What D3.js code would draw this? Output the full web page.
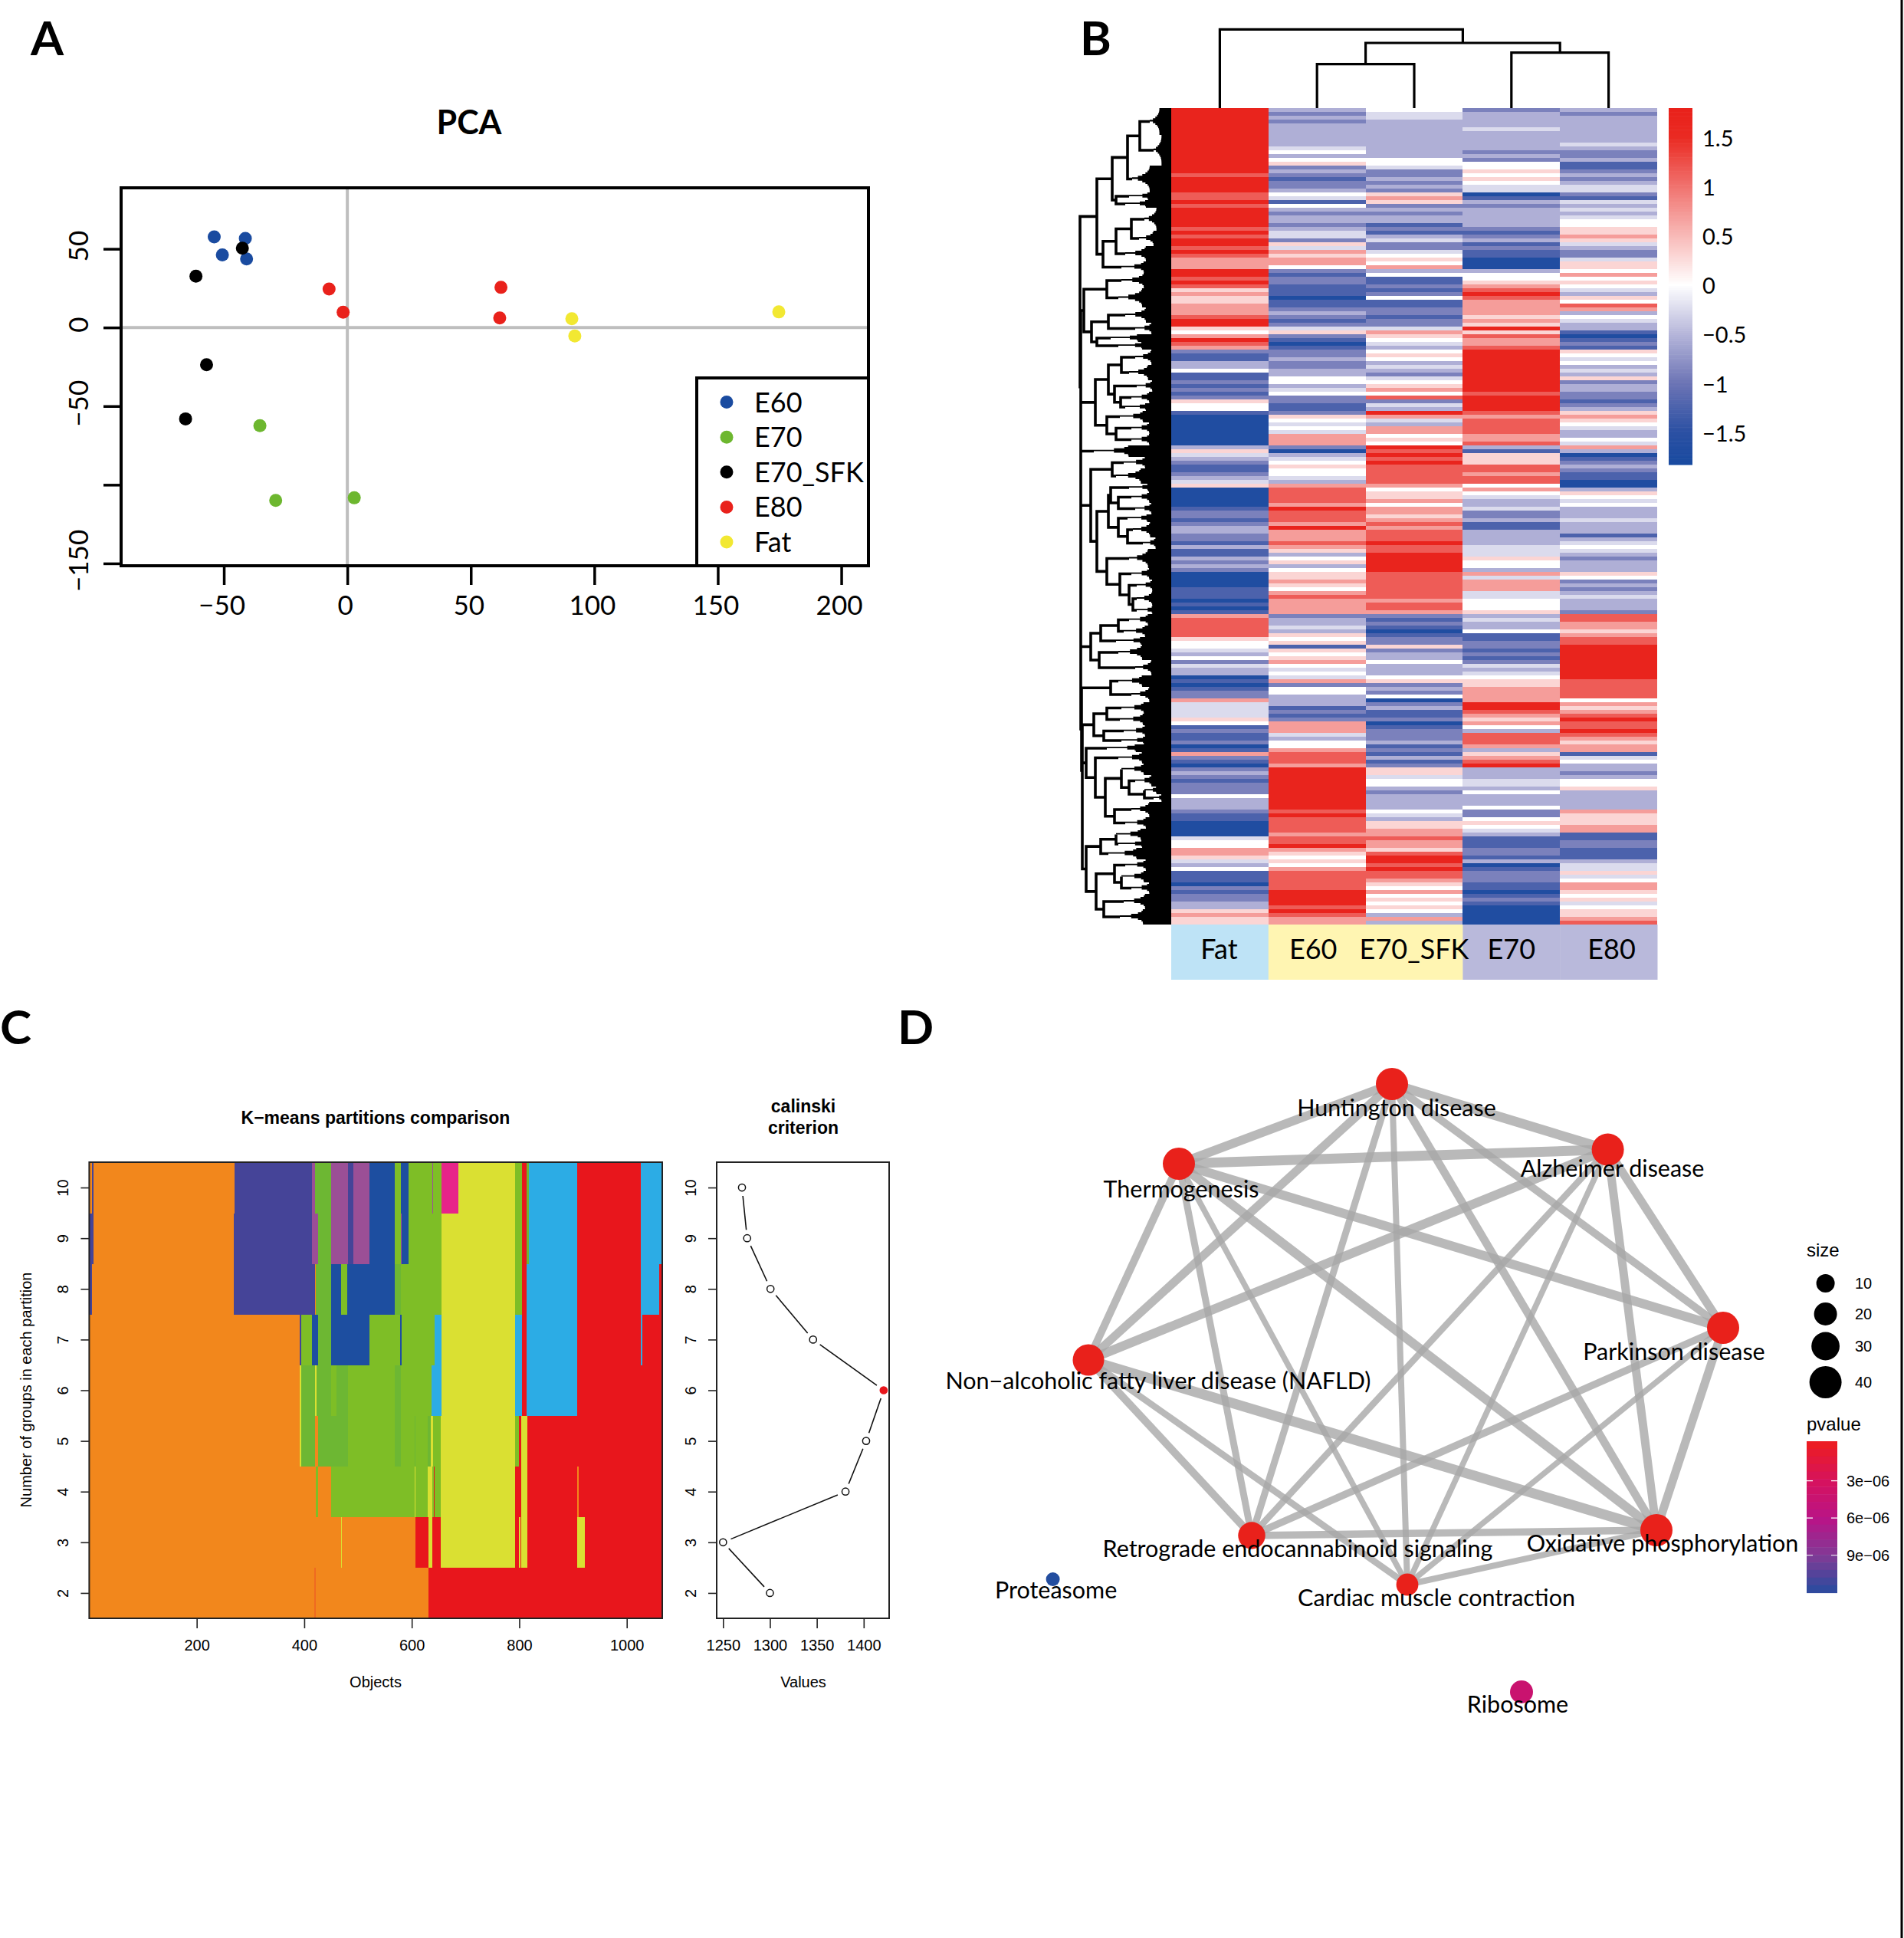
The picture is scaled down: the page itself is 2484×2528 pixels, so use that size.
<!DOCTYPE html>
<html>
<head>
<meta charset="utf-8">
<script src="https://cdn.jsdelivr.net/npm/d3@7"></script>
<style>
  html, body { margin: 0; padding: 0; background: #fff; }
  svg { display: block; }
  text { font-family: Lato, sans-serif; fill: #000; }
  .r text, text.r { font-family: "Liberation Sans", Arial, sans-serif; }
</style>
</head>
<body>
<svg id="fig" width="2484" height="2528"></svg>
<script>
// ---- A: PCA ----
const pcaGroups = ["E60", "E70", "E70_SFK", "E80", "Fat"];
const pcaColors = ["#1A4BA0", "#6DB72F", "#000000", "#E9211B", "#F2E832"];
const pcaE60 = [[-53.9, 57.6], [-41.3, 56.6], [-50.6, 46.1], [-40.8, 43.6]];
const pcaE70 = [[-35.4, -62.4], [-29, -110], [2.8, -108.3]];
const pcaSfk = [[-42.5, 50.4], [-61.3, 32.6], [-57, -23.7], [-65.5, -58.1]];
const pcaE80 = [[-7.4, 24.5], [-1.7, 9.7], [62.2, 25.5], [61.7, 6.1]];
const pcaFat = [[90.9, 5.6], [92.1, -5.4], [174.7, 9.9]];
const pcaXTicks = [-50, 0, 50, 100, 150, 200];
const pcaYTicks = [50, 0, -50, -100, -150];

// ---- B: heatmap, one digit per row, digit indexes heatLevels ----
const heatColumns = ["Fat", "E60", "E70_SFK", "E70", "E80"];
const heatLevels = [-1.7, -1.25, -0.9, -0.55, -0.25, 0, 0.3, 0.7, 1.15, 1.7];
const rowsOf = s => s.replace(/ /g, "");
const heatFat = rowsOf(
  "999999999999999 9989999 8898 99999 8989 9898 777 9 989 8 6766 77 " +
  "7899 65 7 9 8 7 2 1 1 33 5 1 1212 1 2 6 55 1 00000000 3 6 4 3 2112 3 4 6 00000 122 " +
  "1 233 22 1 3 11 3232 00001 110101 7 88888 6 55 43 5 2 4 33 010 1 22 7 444 465 " +
  "12112 01 7 21 0 2 32122 2 5 333 211 000 0 45 5 776 43 5 1110 2122 3 3 6 766");
const heatE60 = rowsOf(
  "323233 3333 4 5 3 5 6 2 3 2 1 2 2 3 5 4 1 5 32332 3 4 4 2 6 4 7 6 7 7 5 2 1 2 2 1 1 1 0 1 1 2 " +
  "3212 4 6 2 101 22 3 223 3 55 3 4 5 2 211 2 6 5454 777 2 0 345 6 554 3 7 8 888 7 988 " +
  "8797 778 76 3 56 3 5 66765 787777 23343 65 6 1 656 7 5454 7 2 55 333 1212 7 " +
  "77 43 55 7 88 8 7 99999999999 898 8887 889 76 56 5 7 8888 89999 898 77");
const heatSfk = rowsOf(
  "5443 333333 333 55 4 2 2323 2 676 23233 121 34 22 4 5 6 5 7 3 5 11212 5 112 " +
  "2122 4 7 6 5 4 3 5 6 5 343 2 4 5 67 5 8 2 4 3 9 7 43 77 5 6 5 98 989 88888 7 5 6 67 5 776 " +
  "787 888 98 8 99999 8888 8887887 21210 122 6 233 5 333 5 6 23 2 5 0 23112 0 " +
  "1222 3 1213 12 66 4 55 32 3333 54 3 667 7 877 6 899 8988 7 65 75 6 56 5 37 3");
const heatE70 = rowsOf(
  "2333 3433333 23 2 5 565 6 544 0 1 3 2333 332 12 3 12 11 000 3 5 5 6 7 898 777 " +
  "7676 9 6 8 7 7 8 9 9999999999 8 9999 8 7 88 887 78 3 1 6 66 88788 5 7 5 433 4 22 " +
  "3 11 3 33 34 44 6 5 5 3 7 4 777 445 556 3433 5 11 22 121 2 434 56 6 777 7 998 767 " +
  "53 8887 3 67 89 33344 3 5 333 5 22 5 65 4 3 111 221 3 0 1 222 1101 210 0000");
const heatE80 = rowsOf(
  "323333 33343 223 1 1 2323 44 214 3434 55 66 7 6 432 2 4 66 5 7 565 43 65 87 " +
  "35433 1 01 2 1 6 5 4 5 343 6 2 332 21 23 6 76 54 3 3 54 7 3 01 232 1100 3 6 5 45 3 33 " +
  "433 3 1 3 4 5 43 2333 6 5 2323 43332 88 7767 8899 999 999 98888 8 5 767 898 " +
  "8987 6 7 7 1 4 53 323 55 6 33 333 7666 77 1 122 111 344 645 7 7 656 45 667 8");
const heatCols = [heatFat, heatE60, heatSfk, heatE70, heatE80];
const heatLegendTicks = [1.5, 1, 0.5, 0, -0.5, -1, -1.5];
const annotationGroups = ["Fat", "E60", "E70_SFK", "E70", "E80"];
const annotationColors = ["#BEE3F6", "#FFF5B2", "#FFF5B2", "#B9B9DB", "#B9B9DB"];

// column dendrogram: [height, left, right], leaf = column index
const colTree = [102.6, 0, [85, [57.3, 1, 2], [72.4, 3, 4]]];

// row dendrogram: [height, left, right], leaf = [height, rows]
const treeA = [97, [77, [57, [41, [28, 7], [23, 8]], [51, 7]], [72, [55, 2], [60, 2]]],
  [89, [72, [52, [35, 6], [42, 4]], [60, 4]], [65, 3]]];
const treeB = [114, [84, [65, 4], [69, 5]], [104, [82, [60, 4], [47, 3]], [97, [79, 2], [69, 2]]]];
const treeC = [99, [82, [65, [47, 4], [55, 4]], [74, [45, 3], [66, [52, 3], [60, 2]]]],
  [84, [67, 3], [72, [52, 3], [52, 3]]]];
const treeD = [101, 3];
const treeE = [77, [62, 3], [72, 4]];
const treeF = [79, [55, 2], [69, [52, 3], [47, 3]]];
const treeG = [69, [57, 2], [57, [50, 4], [37, 3]]];
const treeH = [84, [55, 5], [67, [52, 3], [55, [45, 3], [50, [45, 4], [45, 2]]]]];
const treeI = [105, treeE, [97, [82, treeF, treeG], treeH]];
const treeJ = [105, [92, [69, [55, 3], [62, 3]], [72, 2]], [94, [69, 4], [47, 4]]];
const treeK = [79, [69, 3], [52, 4]];
const treeM = [101, [84, [65, 3], [67, 3]], [88, [62, 3], [65, 2]]];
const treeN = [111, [84, 2], [99, [69, 3], [86, [65, [65, 3], [55, [47, 3], [35, [35, 2], [23, 2]]]], [74, [52, 4], [60, 3]]]]];
const treeO = [111, [92, [72, [72, 3], [69, 2]], [82, 3]], [98, [74, [60, 3], [65, [65, 3], [52, 3]]], [88, [62, 4], [67, 4]]]];
const rowTree = [119, treeA, [118, treeB, [118, treeC, [118, treeD, [118, treeI,
  [118, treeJ, [117, treeK, [116, treeM, [116, treeN, treeO]]]]]]]]];

// ---- C: cascade K-means, segments are [last object, cluster colour key] ----
const kmColors = { O: "#F2871C", o: "#EF6A20", R: "#E8161C", Y: "#DAE032", G: "#7EBE26", g: "#6DB733",
  L: "#2CACE5", D: "#1D4EA0", I: "#454498", P: "#9B4F96", K: "#E72489" };
const km2 = [[419, "O"], [422, "o"], [631, "O"], [1066, "R"]];
const km3 = [[468, "O"], [470, "Y"], [607, "O"], [631, "R"], [638, "Y"], [654, "R"], [792, "Y"], [800, "R"], [802, "Y"], [804, "R"], [815, "Y"], [908, "R"], [922, "Y"], [1066, "R"]];
const km4 = [[421, "O"], [426, "G"], [450, "O"], [606, "G"], [607, "Y"], [630, "G"], [638, "Y"], [641, "G"], [643, "R"], [654, "G"], [792, "Y"], [800, "R"], [804, "R"], [815, "Y"], [908, "R"], [911, "O"], [1066, "R"]];
const km5 = [[392, "O"], [395, "Y"], [420, "g"], [426, "O"], [481, "g"], [569, "G"], [580, "g"], [606, "G"], [607, "g"], [630, "G"], [636, "g"], [639, "Y"], [654, "G"], [792, "Y"], [800, "G"], [804, "R"], [815, "Y"], [1066, "R"]];
const km6 = [[392, "O"], [395, "Y"], [420, "g"], [423, "Y"], [450, "g"], [460, "G"], [481, "g"], [569, "G"], [580, "g"], [637, "G"], [655, "L"], [792, "Y"], [805, "L"], [814, "R"], [908, "L"], [1066, "R"]];
const km7 = [[392, "O"], [395, "I"], [414, "G"], [426, "D"], [450, "g"], [522, "D"], [579, "G"], [581, "D"], [642, "G"], [655, "L"], [792, "Y"], [805, "L"], [814, "R"], [908, "L"], [1026, "R"], [1029, "L"], [1066, "R"]];
const km8 = [[5, "I"], [269, "O"], [420, "I"], [422, "O"], [450, "g"], [468, "D"], [480, "G"], [568, "D"], [580, "g"], [655, "G"], [792, "Y"], [805, "G"], [814, "R"], [908, "L"], [1026, "R"], [1060, "L"], [1066, "R"]];
const km9 = [[8, "I"], [269, "O"], [414, "I"], [426, "P"], [450, "g"], [482, "P"], [491, "I"], [522, "P"], [568, "D"], [580, "G"], [581, "P"], [594, "D"], [655, "G"], [792, "Y"], [805, "G"], [814, "R"], [818, "g"], [908, "L"], [1026, "R"], [1066, "L"]];
const km10 = [[5, "O"], [8, "I"], [270, "O"], [414, "I"], [420, "P"], [450, "g"], [482, "P"], [491, "I"], [522, "P"], [568, "D"], [580, "G"], [594, "D"], [638, "G"], [640, "P"], [655, "G"], [687, "K"], [792, "Y"], [805, "G"], [814, "R"], [818, "g"], [908, "L"], [1026, "R"], [1066, "L"]];
const kmRows = [km2, km3, km4, km5, km6, km7, km8, km9, km10];
const kmGroups = [2, 3, 4, 5, 6, 7, 8, 9, 10];
const calinski = [1300, 1250, 1380.6, 1402.6, 1421.3, 1346, 1300.6, 1275.7, 1270.2];

// ---- D: network ----
const netNames = ["Huntington disease", "Alzheimer disease", "Parkinson disease", "Oxidative phosphorylation",
  "Cardiac muscle contraction", "Retrograde endocannabinoid signaling", "Non\u2212alcoholic fatty liver disease (NAFLD)",
  "Thermogenesis", "Proteasome", "Ribosome"];
const netX = [-0.035, 0.669, 1.045, 0.8275, 0.015, -0.4925, -1.025, -0.73, -1.141, 0.3875];
const netY = [-0.815, -0.601, -0.02, 0.64, 0.8175, 0.6575, 0.085, -0.555, 0.8, 1.1675];
const netSize = [40, 40, 40, 40, 18, 28, 38, 40, 5, 20];
const netP = [1e-7, 1e-7, 1e-7, 1e-7, 1e-7, 1e-7, 1e-7, 1e-7, 1.2e-5, 4.2e-6];
// label offset from the node, x and y, in pixels
const netLabelDx = [6, 6, -64, 8, 38, 60, 91, 3, 4, -5];
const netLabelDy = [32, 25, 32, 18, 18, 18, 28, 34, 15, 17];
// edges: [from, to, width]
const netEdges = [[0, 7, 11.5], [0, 1, 12.5], [7, 1, 13], [0, 2, 10], [0, 3, 10.5], [1, 2, 11], [1, 3, 11], [2, 3, 11],
  [7, 2, 12], [7, 3, 12], [6, 0, 11], [6, 7, 10], [6, 1, 12], [6, 3, 13], [6, 5, 10], [6, 4, 8.5], [7, 5, 9], [7, 4, 7.5],
  [0, 5, 9], [0, 4, 8], [1, 5, 8.5], [1, 4, 7.5], [2, 5, 9.5], [2, 4, 7.5], [5, 3, 9.5], [3, 4, 8]];
const sizeLegend = [10, 20, 30, 40];
const pLegendTicks = [3e-6, 6e-6, 9e-6];

const svg = d3.select("#fig");

// panel letters
[["A", 40, 72], ["B", 1409, 72], ["C", 0, 1362], ["D", 1171, 1362]].forEach(p => {
  svg.append("text").attr("x", p[1]).attr("y", p[2])
    .style("font-size", "62px").style("font-weight", 700).text(p[0]);
});

// ================= A =================
const pca = svg.append("g");
const pcaLeft = 158, pcaRight = 1133, pcaTop = 245, pcaBottom = 738;
const xPca = d3.scaleLinear().domain([-91.6, 211]).range([pcaLeft, pcaRight]);
const yPca = d3.scaleLinear().domain([-151.5, 88.8]).range([pcaBottom, pcaTop]);

pca.append("text").attr("x", 612).attr("y", 175).attr("text-anchor", "middle")
  .style("font-size", "43px").style("font-weight", 700).text("PCA");

pca.append("line").attr("x1", xPca(0)).attr("x2", xPca(0)).attr("y1", pcaTop).attr("y2", pcaBottom)
  .attr("stroke", "#BEBEBE").attr("stroke-width", 4);
pca.append("line").attr("y1", yPca(0)).attr("y2", yPca(0)).attr("x1", pcaLeft).attr("x2", pcaRight)
  .attr("stroke", "#BEBEBE").attr("stroke-width", 4);

const pcaAxisX = pca.append("g").attr("transform", `translate(0,${pcaBottom})`)
  .call(d3.axisBottom(xPca).tickValues(pcaXTicks).tickSize(25).tickPadding(14));
const pcaAxisY = pca.append("g").attr("transform", `translate(${pcaLeft},0)`)
  .call(d3.axisLeft(yPca).tickValues(pcaYTicks).tickSize(23).tickPadding(0)
    .tickFormat(d => d === -100 ? "" : d3.format("d")(d)));
[pcaAxisX, pcaAxisY].forEach(a => {
  a.select(".domain").remove();
  a.selectAll("line").attr("stroke", "#000").attr("stroke-width", 3.5);
  a.selectAll("text").style("font-family", "Lato, sans-serif").style("font-size", "35px");
});
pcaAxisX.selectAll("text").attr("dx", -3);
pcaAxisY.selectAll("text")
  .attr("transform", "rotate(-90)").attr("text-anchor", "middle")
  .attr("x", 4).attr("y", -43).attr("dy", 0);

pca.append("rect").attr("x", pcaLeft).attr("y", pcaTop).attr("width", pcaRight - pcaLeft).attr("height", pcaBottom - pcaTop)
  .attr("fill", "none").attr("stroke", "#000").attr("stroke-width", 4);

[pcaE60, pcaE70, pcaSfk, pcaE80, pcaFat].forEach((pts, i) => {
  pca.selectAll(null).data(pts).join("circle")
    .attr("cx", d => xPca(d[0])).attr("cy", d => yPca(d[1])).attr("r", 8.5).attr("fill", pcaColors[i]);
});

const pcaLegend = pca.append("g");
pcaLegend.append("path").attr("d", "M909,738V493H1133").attr("fill", "none").attr("stroke", "#000").attr("stroke-width", 4);
const legendY = d3.scalePoint().domain(pcaGroups).range([524.6, 707]);
pcaLegend.selectAll("circle").data(pcaGroups).join("circle")
  .attr("cx", 948).attr("cy", d => legendY(d)).attr("r", 8.5).attr("fill", (d, i) => pcaColors[i]);
pcaLegend.selectAll("text").data(pcaGroups).join("text")
  .attr("x", 984).attr("y", d => legendY(d) + 13).style("font-size", "36px").text(d => d);

// ================= B =================
const heat = svg.append("g");
const heatLeft = 1528, heatRight = 2162, heatTop = 141, heatBottom = 1206;
const xHeat = d3.scaleBand().domain(heatColumns).range([heatLeft, heatRight]);
const rowCount = d3.max(heatCols, c => c.length);
const yHeat = d3.scaleBand().domain(d3.range(rowCount)).range([heatTop, heatBottom]);
const heatColor = d3.scaleLinear()
  .domain([-1.8, -1.5, -1, -0.5, 0, 0.5, 1, 1.5, 1.8])
  .range(["#1A4BA0", "#2B50A3", "#6C74B5", "#B6B6DA", "#FFFFFF", "#F8B9B7", "#F0726E", "#EA2A22", "#E9211B"]);

heatCols.forEach((col, c) => {
  heat.append("g").selectAll("rect").data(Array.from(col)).join("rect")
    .attr("x", xHeat(heatColumns[c])).attr("width", xHeat.bandwidth())
    .attr("y", (d, i) => yHeat(i)).attr("height", yHeat.bandwidth() + 0.5)
    .attr("fill", d => heatColor(heatLevels[+d]))
    .attr("shape-rendering", "crispEdges");
});

// annotation strip
heat.selectAll(".anno").data(annotationGroups).join("rect").attr("class", "anno")
  .attr("x", d => xHeat(d)).attr("width", xHeat.bandwidth() + 0.5)
  .attr("y", heatBottom).attr("height", 72)
  .attr("fill", (d, i) => annotationColors[i]);
const annoLabelDx = [-1, -5, 0, 0, 4];
heat.selectAll(".annoText").data(annotationGroups).join("text").attr("class", "annoText")
  .attr("x", (d, i) => xHeat(d) + xHeat.bandwidth() / 2 + annoLabelDx[i]).attr("y", 1251)
  .attr("text-anchor", "middle").style("font-size", "36px").text(d => d);

// colour key
const yKey = d3.scaleLinear().domain([1.8, -1.82]).range([heatTop, 606]);
heat.append("g").selectAll("rect").data(d3.range(-1.82, 1.8, 0.02)).join("rect")
  .attr("x", 2177).attr("width", 31)
  .attr("y", d => yKey(d + 0.02)).attr("height", yKey(0) - yKey(0.02) + 0.6)
  .attr("fill", d => heatColor(d));
heat.selectAll(".keyText").data(heatLegendTicks).join("text").attr("class", "keyText")
  .attr("x", 2221).attr("y", d => yKey(d) + 11).style("font-size", "29px")
  .text(d => d3.format("")(d).replace("-", "\u2212"));

// column dendrogram
const yColTree = d3.scaleLinear().domain([0, 102.6]).range([heatTop, 38.4]);
const colRoot = d3.hierarchy(colTree, d => Array.isArray(d) ? d.slice(1) : null);
colRoot.eachAfter(n => {
  n.px = n.children ? d3.mean(n.children, k => k.px) : xHeat(heatColumns[n.data]) + xHeat.bandwidth() / 2;
  n.py = n.children ? yColTree(n.data[0]) : heatTop;
});
const colPath = d3.path();
colRoot.each(n => {
  if (!n.children) return;
  const [a, b] = n.children;
  colPath.moveTo(a.px, a.py); colPath.lineTo(a.px, n.py);
  colPath.lineTo(b.px, n.py); colPath.lineTo(b.px, b.py);
});
heat.append("path").attr("d", colPath.toString()).attr("fill", "none").attr("stroke", "#000").attr("stroke-width", 3.2);

// row dendrogram
const xRowTree = d3.scaleLinear().domain([0, 120]).range([heatLeft, heatLeft - 120]);
const rowRoot = d3.hierarchy(rowTree, d => d.length === 3 ? d.slice(1) : null);
let nextRow = 0;
rowRoot.eachAfter(n => {
  n.px = xRowTree(n.data[0]);
  if (n.children) {
    n.py = d3.mean(n.children, k => k.py);
  } else {
    n.y0 = yHeat(nextRow);
    nextRow += n.data[1];
    n.y1 = yHeat(nextRow - 1) + yHeat.bandwidth();
    n.py = (n.y0 + n.y1) / 2;
  }
});
const rowPath = d3.path();
rowRoot.each(n => {
  if (!n.children) return;
  const [a, b] = n.children;
  rowPath.moveTo(a.px, a.py); rowPath.lineTo(n.px, a.py);
  rowPath.lineTo(n.px, b.py); rowPath.lineTo(b.px, b.py);
});
heat.append("path").attr("d", rowPath.toString()).attr("fill", "none").attr("stroke", "#000").attr("stroke-width", 3.6);

// every leaf stands for a bunch of genes: a stepped comb running into the heatmap
const comb = d3.line().curve(d3.curveStepAfter);
rowRoot.leaves().forEach(n => {
  const inner = xRowTree(n.data[0] * 0.55);
  const steps = Math.max(3, n.data[1] + 1);
  const side = y => d3.range(steps + 1).map(j => {
    const t = j / steps;
    return [inner + (n.px - inner) * t * t * t, y + (n.py - y) * t];
  });
  const top = side(n.y0), bottom = side(n.y1).reverse();
  heat.append("path")
    .attr("d", comb(top) + comb(bottom).replace("M", "L") + `L${heatLeft},${n.y1}L${heatLeft},${n.y0}Z`)
    .attr("fill", "#000");
});

// ================= C =================
const km = svg.append("g").attr("class", "r");
const kmLeft = 116.4, kmRight = 864, kmTop = 1516, kmBottom = 2111;
const xKm = d3.scaleLinear().domain([0, 1066]).range([kmLeft, kmRight]);
const yKm = d3.scaleLinear().domain([1.5, 10.5]).range([kmBottom, kmTop]);

kmRows.forEach((segs, r) => {
  const k = kmGroups[r];
  km.append("g").selectAll("rect").data(segs).join("rect")
    .attr("x", (d, i) => xKm(i ? segs[i - 1][0] : 0))
    .attr("width", (d, i) => xKm(d[0]) - xKm(i ? segs[i - 1][0] : 0) + 0.4)
    .attr("y", yKm(k + 0.5)).attr("height", yKm(k - 0.5) - yKm(k + 0.5) + 0.4)
    .attr("fill", d => kmColors[d[1]])
    .attr("shape-rendering", "crispEdges");
});

function styleRAxis(a) {
  a.select(".domain").remove();
  a.selectAll("line").attr("stroke", "#222").attr("stroke-width", 1.6);
  a.selectAll("text").style("font-size", "20px");
}
function rotateRAxis(a) {
  a.selectAll("text").attr("transform", "rotate(-90)").attr("text-anchor", "middle")
    .attr("x", 0).attr("y", -27).attr("dy", 0);
}

km.append("g").attr("transform", `translate(0,${kmBottom})`)
  .call(d3.axisBottom(xKm).tickValues([200, 400, 600, 800, 1000]).tickFormat(d3.format("d")).tickSize(13).tickPadding(15))
  .call(styleRAxis);
km.append("g").attr("transform", `translate(${kmLeft},0)`)
  .call(d3.axisLeft(yKm).tickValues(kmGroups).tickFormat(d3.format("d")).tickSize(11))
  .call(styleRAxis).call(rotateRAxis);
km.append("rect").attr("x", kmLeft).attr("y", kmTop).attr("width", kmRight - kmLeft).attr("height", kmBottom - kmTop)
  .attr("fill", "none").attr("stroke", "#222").attr("stroke-width", 2);

km.append("text").attr("class", "r").attr("x", 490).attr("y", 1466).attr("text-anchor", "middle")
  .style("font-size", "23px").style("font-weight", 700).text("K\u2212means partitions comparison");
km.append("text").attr("class", "r").attr("x", 490).attr("y", 2201).attr("text-anchor", "middle")
  .style("font-size", "20px").text("Objects");
km.append("text").attr("class", "r").attr("transform", "translate(41,1813) rotate(-90)").attr("text-anchor", "middle")
  .style("font-size", "20px").text("Number of groups in each partition");

// calinski panel
const calLeft = 935, calRight = 1160;
const xCal = d3.scaleLinear().domain([1250, 1400]).range([943.3, 1126.8]);
km.append("g").attr("transform", `translate(0,${kmBottom})`)
  .call(d3.axisBottom(xCal).tickValues([1250, 1300, 1350, 1400]).tickFormat(d3.format("d")).tickSize(13).tickPadding(15))
  .call(styleRAxis);
km.append("g").attr("transform", `translate(${calLeft},0)`)
  .call(d3.axisLeft(yKm).tickValues(kmGroups).tickFormat(d3.format("d")).tickSize(11))
  .call(styleRAxis).call(rotateRAxis);
km.append("rect").attr("x", calLeft).attr("y", kmTop).attr("width", calRight - calLeft).attr("height", kmBottom - kmTop)
  .attr("fill", "none").attr("stroke", "#222").attr("stroke-width", 2);

// type="b" line: segments stop short of the points
const calPts = calinski.map((v, i) => [xCal(v), yKm(kmGroups[i])]);
d3.pairs(calPts).forEach(([a, b]) => {
  const dx = b[0] - a[0], dy = b[1] - a[1], len = Math.hypot(dx, dy), gap = 11 / len;
  km.append("line")
    .attr("x1", a[0] + dx * gap).attr("y1", a[1] + dy * gap)
    .attr("x2", b[0] - dx * gap).attr("y2", b[1] - dy * gap)
    .attr("stroke", "#111").attr("stroke-width", 1.6);
});
const calBest = d3.maxIndex(calinski);
km.selectAll(".calPt").data(calPts).join("circle").attr("class", "calPt")
  .attr("cx", d => d[0]).attr("cy", d => d[1]).attr("r", 4.6)
  .attr("fill", (d, i) => i === calBest ? "#E8161C" : "#fff")
  .attr("stroke", (d, i) => i === calBest ? "#E8161C" : "#111").attr("stroke-width", 1.5);

km.append("text").attr("class", "r").attr("x", 1048).attr("y", 1451).attr("text-anchor", "middle")
  .style("font-size", "23px").style("font-weight", 700).text("calinski");
km.append("text").attr("class", "r").attr("x", 1048).attr("y", 1479).attr("text-anchor", "middle")
  .style("font-size", "23px").style("font-weight", 700).text("criterion");
km.append("text").attr("class", "r").attr("x", 1048).attr("y", 2201).attr("text-anchor", "middle")
  .style("font-size", "20px").text("Values");

// ================= D =================
const net = svg.append("g");
const xNet = d3.scaleLinear().domain([-1, 1]).range([1430, 2230]);
const yNet = d3.scaleLinear().domain([-1, 1]).range([1340, 2140]);
const rNet = d3.scaleLinear().domain([5, 10, 20, 30, 40]).range([9, 12, 15, 18.4, 21]);
const pColor = d3.scaleLinear().domain([0, 3e-6, 6e-6, 9e-6, 1.22e-5])
  .range(["#EC1C24", "#D5125F", "#B81488", "#7F3B96", "#1D4EA0"]);

net.selectAll("line").data(netEdges).join("line")
  .attr("x1", d => xNet(netX[d[0]])).attr("y1", d => yNet(netY[d[0]]))
  .attr("x2", d => xNet(netX[d[1]])).attr("y2", d => yNet(netY[d[1]]))
  .attr("stroke", "#A8A8A8").attr("stroke-opacity", 0.8).attr("stroke-width", d => d[2]);
net.selectAll("circle").data(netNames).join("circle")
  .attr("cx", (d, i) => xNet(netX[i])).attr("cy", (d, i) => yNet(netY[i]))
  .attr("r", (d, i) => rNet(netSize[i]))
  .attr("fill", (d, i) => netP[i] < 1e-6 ? "#E9211B" : pColor(netP[i]));
net.selectAll("text").data(netNames).join("text")
  .attr("x", (d, i) => xNet(netX[i]) + netLabelDx[i]).attr("y", (d, i) => yNet(netY[i]) + netLabelDy[i] + 10)
  .attr("text-anchor", "middle").style("font-size", "30.5px").text(d => d);

// size legend
const legendG = svg.append("g").attr("class", "r");
legendG.append("text").attr("class", "r").attr("x", 2357).attr("y", 1639).style("font-size", "24px").text("size");
const sizeY = [1674, 1714, 1756, 1803];
legendG.selectAll(".sz").data(sizeLegend).join("circle").attr("class", "sz")
  .attr("cx", 2381.6).attr("cy", (d, i) => sizeY[i]).attr("r", d => rNet(d)).attr("fill", "#000");
legendG.selectAll(".szt").data(sizeLegend).join("text").attr("class", "szt r")
  .attr("x", 2420).attr("y", (d, i) => sizeY[i] + 7).style("font-size", "20px").text(d => d);

// p value legend, 20 bins like ggplot's colourbar
legendG.append("text").attr("class", "r").attr("x", 2357).attr("y", 1866).style("font-size", "24px").text("pvalue");
const yP = d3.scaleLinear().domain([0, 1.22e-5]).range([1880, 2077.6]);
const pBins = d3.range(20).map(i => i * 1.22e-5 / 20);
legendG.selectAll(".pb").data(pBins).join("rect").attr("class", "pb")
  .attr("x", 2357).attr("width", 40).attr("y", d => yP(d)).attr("height", yP(1.22e-5 / 20) - yP(0) + 0.5)
  .attr("fill", d => pColor(d));
legendG.selectAll(".pt").data(pLegendTicks).join("path").attr("class", "pt")
  .attr("d", d => `M2357,${yP(d) + 3}h8M2389,${yP(d) + 3}h8`).attr("stroke", "#fff").attr("stroke-width", 1.2);
const pFmt = d => (d * 1e6).toFixed(0) + "e\u221206";
legendG.selectAll(".ptt").data(pLegendTicks).join("text").attr("class", "ptt r")
  .attr("x", 2409).attr("y", d => yP(d) + 10).style("font-size", "20px").text(pFmt);

// page edge
svg.append("line").attr("x1", 2481).attr("x2", 2481).attr("y1", 0).attr("y2", 2528)
  .attr("stroke", "#000").attr("stroke-width", 3);
</script>
</body>
</html>
